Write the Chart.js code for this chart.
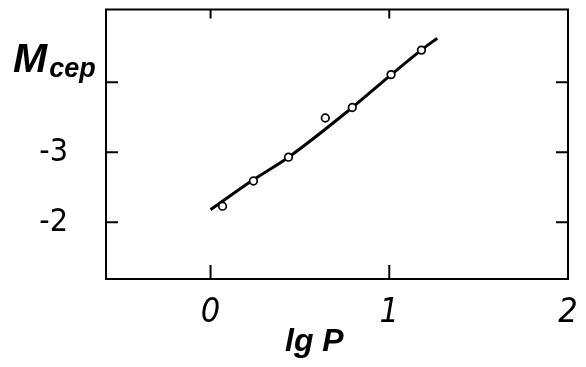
<!DOCTYPE html>
<html>
<head>
<meta charset="utf-8">
<script src="https://cdn.jsdelivr.net/npm/chart.js@4/dist/chart.umd.min.js"></script>
<style>
  html, body { margin: 0; padding: 0; background: #fff; }
  #wrap { width: 586px; height: 367px; }
</style>
</head>
<body>
<div id="wrap"><canvas id="c" width="586" height="367"></canvas></div>
<script>
// Observed points (lg P, M_cep)
const obsX = [0.067, 0.24, 0.436, 0.642, 0.793, 1.01, 1.18];
const obsY = [-2.23, -2.59, -2.93, -3.49, -3.64, -4.11, -4.46];
// Fitted curve
const curveX = [0.0, 0.235, 0.436, 0.793, 1.011, 1.179, 1.268];
const curveY = [-2.18, -2.60, -2.93, -3.64, -4.11, -4.46, -4.63];
// Tick values / labels
const xTicks = [0, 1, 2];
const xTickLabels = ['0', '1', '2'];
const yTicks = [-4, -3, -2];
const yTickLabels = ['', '-3', '-2'];
const xTitle = 'lg P';
const yTitleMain = 'M';
const yTitleSub = 'cep';

const toPts = (xs, ys) => xs.map((x, i) => ({ x: x, y: ys[i] }));

const frame = {
  id: 'frame',
  afterDatasetsDraw(chart) {
    const { ctx, chartArea: a, scales } = chart;
    ctx.save();
    ctx.strokeStyle = '#000';
    ctx.lineWidth = 2;
    ctx.strokeRect(a.left, a.top, a.right - a.left, a.bottom - a.top);
    ctx.lineWidth = 2;
    yTicks.forEach(v => {
      const y = scales.y.getPixelForValue(v);
      ctx.beginPath();
      ctx.moveTo(a.left, y); ctx.lineTo(a.left + 12, y);
      ctx.moveTo(a.right, y); ctx.lineTo(a.right - 12, y);
      ctx.stroke();
    });
    xTicks.slice(0, 2).forEach(v => {
      const x = scales.x.getPixelForValue(v);
      ctx.beginPath();
      ctx.moveTo(x, a.bottom); ctx.lineTo(x, a.bottom - 14);
      ctx.moveTo(x, a.top); ctx.lineTo(x, a.top + 9);
      ctx.stroke();
    });
    // axis titles
    ctx.fillStyle = '#000';
    ctx.textBaseline = 'alphabetic';
    ctx.textAlign = 'left';
    ctx.font = 'italic bold 41px "Liberation Sans", Arial, sans-serif';
    ctx.fillText(yTitleMain, 13, 72);
    const mw = ctx.measureText(yTitleMain).width;
    ctx.font = 'italic bold 27px "Liberation Sans", Arial, sans-serif';
    ctx.fillText(yTitleSub, 13 + mw + 2, 77);
    ctx.font = 'italic bold 32px "Liberation Sans", Arial, sans-serif';
    ctx.fillText(xTitle, 285, 351);
    ctx.restore();
  }
};

const zeroPad = s => { s.paddingTop = 0; s.paddingBottom = 0; s.paddingLeft = 0; s.paddingRight = 0; };

new Chart(document.getElementById('c'), {
  type: 'scatter',
  data: {
    datasets: [
      {
        label: 'obs',
        data: toPts(obsX, obsY),
        pointRadius: 3.8,
        pointBackgroundColor: '#fff',
        pointBorderColor: '#000',
        pointBorderWidth: 1.7,
        showLine: false,
        order: 0
      },
      {
        label: 'fit',
        data: toPts(curveX, curveY),
        showLine: true,
        borderColor: '#000',
        borderWidth: 3,
        pointRadius: 0,
        cubicInterpolationMode: 'monotone',
        order: 1
      }
    ]
  },
  plugins: [frame],
  options: {
    responsive: false,
    animation: false,
    events: [],
    layout: { padding: { top: 9.5, right: 18, left: 0, bottom: 0 } },
    plugins: { legend: { display: false }, tooltip: { enabled: false } },
    scales: {
      x: {
        type: 'linear',
        position: 'bottom',
        min: -0.585,
        max: 2,
        afterBuildTicks: s => { s.ticks = xTicks.map(v => ({ value: v })); },
        afterFit: s => { s.height = 88; zeroPad(s); },
        grid: { display: false },
        border: { display: false },
        ticks: {
          color: '#000',
          padding: 6,
          maxRotation: 0,
          autoSkip: false,
          font: { family: '"Liberation Sans Narrow", "DejaVu Sans Condensed", sans-serif', style: 'italic', size: 34 },
          callback: (v) => { const i = xTicks.indexOf(v); return i >= 0 ? xTickLabels[i] : ''; }
        }
      },
      y: {
        type: 'linear',
        reverse: true,
        min: -5.04,
        max: -1.19,
        afterBuildTicks: s => { s.ticks = yTicks.map(v => ({ value: v })); },
        afterFit: s => { s.width = 106; zeroPad(s); },
        grid: { display: false },
        border: { display: false },
        ticks: {
          color: '#000',
          padding: 30,
          autoSkip: false,
          font: { family: '"Liberation Sans Narrow", "DejaVu Sans Condensed", sans-serif', size: 32 },
          callback: (v) => { const i = yTicks.indexOf(v); return i >= 0 ? yTickLabels[i] : ''; }
        }
      }
    }
  }
});
</script>
</body>
</html>
